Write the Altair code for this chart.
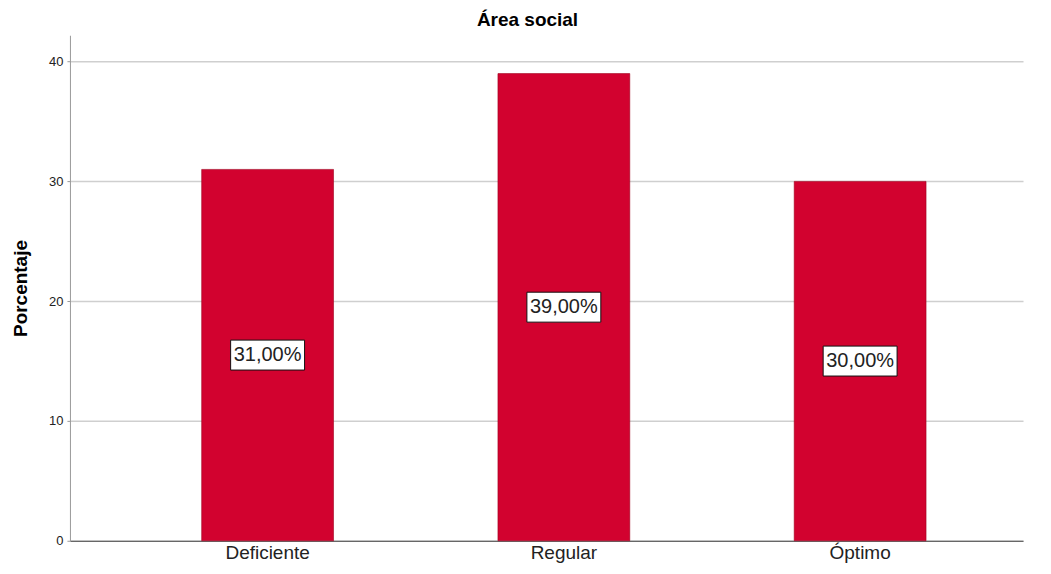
import altair as alt
import pandas as pd

categories = ["Deficiente", "Regular", "Óptimo"]
values = [31.0, 39.0, 30.0]
labels = ["31,00%", "39,00%", "30,00%"]

df = pd.DataFrame({"cat": categories, "val": values, "lab": labels})
df["mid"] = df["val"] / 2

FONT = "Arial, Liberation Sans"

x = alt.X("cat:N", sort=categories, title=None,
          scale=alt.Scale(paddingInner=0.555, paddingOuter=0.386, align=0.576),
          axis=alt.Axis(labelAngle=0, labelFontSize=19, labelFont=FONT,
                        labelColor="#222", ticks=False, domainColor="#444", domainWidth=1,
                        labelPadding=3, grid=False))

base = alt.Chart(df)

bars = base.mark_bar(color="#d2022f", stroke="#a0001e", strokeWidth=0.6).encode(
    x=x,
    y=alt.Y("val:Q", title="Porcentaje",
            scale=alt.Scale(domain=[0, 42.2], nice=False),
            axis=alt.Axis(values=[0, 10, 20, 30, 40], labelFontSize=13,
                          labelFont=FONT, labelColor="#222",
                          titleFontSize=19, titleFont=FONT,
                          titleFontWeight="bold", titleColor="#000", titlePadding=18,
                          tickSize=3, tickColor="#999", domainColor="#999",
                          gridColor="#cfcfcf", gridWidth=1.5, labelPadding=4)),
)

boxes = base.mark_point(
    shape="M-1,-0.405L1,-0.405L1,0.405L-1,0.405Z", size=5476,
    filled=True, fill="white", stroke="#111", strokeWidth=1, opacity=1
).encode(x=alt.X("cat:N", sort=categories), y=alt.Y("mid:Q"))

texts = base.mark_text(fontSize=20, font=FONT, color="#222").encode(
    x=alt.X("cat:N", sort=categories), y=alt.Y("mid:Q"), text="lab:N")

chart = alt.layer(bars, boxes, texts).properties(
    width=954, height=506,
    title=alt.TitleParams("Área social", fontSize=19, font=FONT,
                          fontWeight="bold", color="#000", offset=5, dx=-19),
    autosize=alt.AutoSizeParams(type="none"),
    padding={"left": 62, "top": 27, "right": 20, "bottom": 25},
).configure_view(stroke=None).configure_axis(gridOpacity=1)

chart.save("out.html", embed_options={"renderer": "svg", "actions": False})
